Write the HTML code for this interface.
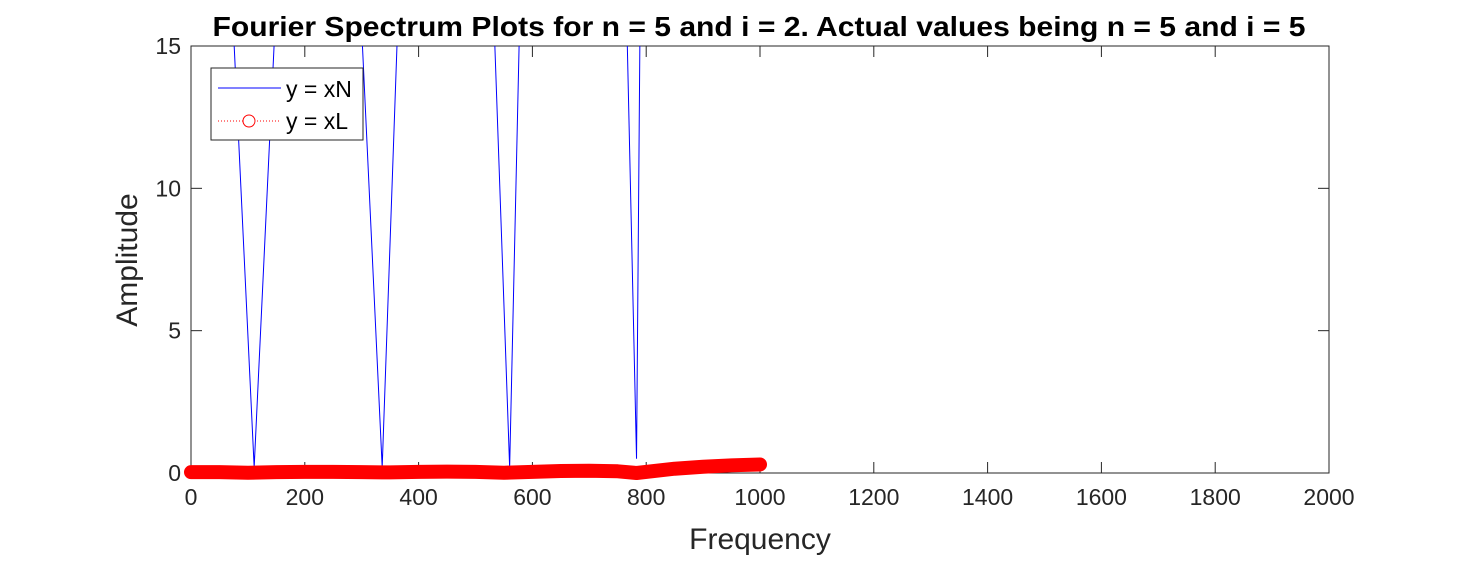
<!DOCTYPE html>
<html><head><meta charset="utf-8"><style>
body{margin:0;background:#fff;}
svg text{font-family:"Liberation Sans",Arial,sans-serif;fill:#262626;}
</style></head><body>
<svg id="chart" width="1467" height="556" xmlns="http://www.w3.org/2000/svg">
<rect width="1467" height="556" fill="#fff"/>
<defs><clipPath id="plotclip"><rect x="191" y="46" width="1138" height="427"/></clipPath></defs>
<text x="759" y="36" text-anchor="middle" font-size="28" font-weight="bold" textLength="1093" lengthAdjust="spacingAndGlyphs" style="fill:#000">Fourier Spectrum Plots for n = 5 and i = 2. Actual values being n = 5 and i = 5</text>
<rect x="191" y="46" width="1138" height="427" fill="none" stroke="#262626" stroke-width="1"/>
<g id="xticks"></g>
<g id="yticks"></g>
<text x="760" y="549" text-anchor="middle" font-size="30">Frequency</text>
<text transform="translate(137,260) rotate(-90)" text-anchor="middle" font-size="30">Amplitude</text>
<g clip-path="url(#plotclip)">
<polyline id="lineN" fill="none" stroke="#0000ff" stroke-width="1"/>
</g>
<polyline id="lineL" fill="none" stroke="#ff0000" stroke-width="14" stroke-linecap="round" stroke-linejoin="round"/>
<g id="markersL"></g>
<g>
<rect x="211" y="68" width="152" height="72" fill="#fff" stroke="#262626" stroke-width="1"/>
<line x1="218" y1="88" x2="281" y2="88" stroke="#0000ff" stroke-width="1"/>
<text x="286" y="97" font-size="23" style="fill:#000">y = xN</text>
<line x1="218" y1="121" x2="281" y2="121" stroke="#ff0000" stroke-width="1" stroke-dasharray="1,2"/>
<circle cx="249" cy="121" r="6" fill="#fff" stroke="#ff0000"/>
<text x="286" y="129" font-size="23" style="fill:#000">y = xL</text>
</g>
</svg>
<script>
const xTicks=[0,200,400,600,800,1000,1200,1400,1600,1800,2000];
const yTicks=[0,5,10,15];
const freqN=[0,111,224,336,448,560,672,783,1000];
const ampN=[47,0.2,48,0.2,64,0.2,100,0.5,540];
const freqL=[0,50,100,150,200,250,300,350,400,450,500,550,600,650,700,750,783,850,900,950,1000];
const ampL=[0.03,0.03,0.01,0.03,0.04,0.04,0.03,0.02,0.04,0.05,0.04,0.01,0.04,0.07,0.08,0.06,0.0,0.15,0.22,0.27,0.3];
const X0=191,X1=1329,Y0=473,Y1=46;
const sx=v=>X0+(v-0)/(2000-0)*(X1-X0);
const sy=v=>Y0-(v-0)/(15-0)*(Y0-Y1);
const NS="http://www.w3.org/2000/svg";
const xg=document.getElementById('xticks'),yg=document.getElementById('yticks');
xTicks.forEach(t=>{
  const x=sx(t);
  const l1=document.createElementNS(NS,'line');
  l1.setAttribute('x1',x);l1.setAttribute('x2',x);l1.setAttribute('y1',Y0);l1.setAttribute('y2',Y0-11);l1.setAttribute('stroke','#262626');
  
  
  xg.appendChild(l1);
  const l2=document.createElementNS(NS,'line');
  l2.setAttribute('x1',x);l2.setAttribute('x2',x);l2.setAttribute('y1',Y1);l2.setAttribute('y2',Y1+11);l2.setAttribute('stroke','#262626');
  
  
  xg.appendChild(l2);
  const tx=document.createElementNS(NS,'text');
  tx.setAttribute('x',x);tx.setAttribute('y',Y0+32);tx.setAttribute('text-anchor','middle');tx.setAttribute('font-size','23');
  tx.textContent=t;
  
  
  xg.appendChild(tx);
});
yTicks.forEach(t=>{
  const y=sy(t);
  const l1=document.createElementNS(NS,'line');
  l1.setAttribute('x1',X0);l1.setAttribute('x2',X0+11);l1.setAttribute('y1',y);l1.setAttribute('y2',y);l1.setAttribute('stroke','#262626');
  
  
  yg.appendChild(l1);
  const l2=document.createElementNS(NS,'line');
  l2.setAttribute('x1',X1);l2.setAttribute('x2',X1-11);l2.setAttribute('y1',y);l2.setAttribute('y2',y);l2.setAttribute('stroke','#262626');
  
  
  yg.appendChild(l2);
  const tx=document.createElementNS(NS,'text');
  tx.setAttribute('x',X0-10);tx.setAttribute('y',y+8);tx.setAttribute('text-anchor','end');tx.setAttribute('font-size','23');
  tx.textContent=t;
  
  
  yg.appendChild(tx);
});
document.getElementById('lineN').setAttribute('points',freqN.map((f,i)=>sx(f)+','+sy(ampN[i])).join(' '));
document.getElementById('lineL').setAttribute('points',freqL.map((f,i)=>sx(f)+','+sy(ampL[i])).join(' '));
const mg=document.getElementById('markersL');
const last=freqL.length-1;
[last].forEach(i=>{
  const c=document.createElementNS(NS,'circle');
  c.setAttribute('cx',sx(freqL[i]));c.setAttribute('cy',sy(ampL[i]));c.setAttribute('r','6');
  c.setAttribute('fill','none');c.setAttribute('stroke','#ff0000');
  
  
  mg.appendChild(c);
});
</script>
</body></html>
